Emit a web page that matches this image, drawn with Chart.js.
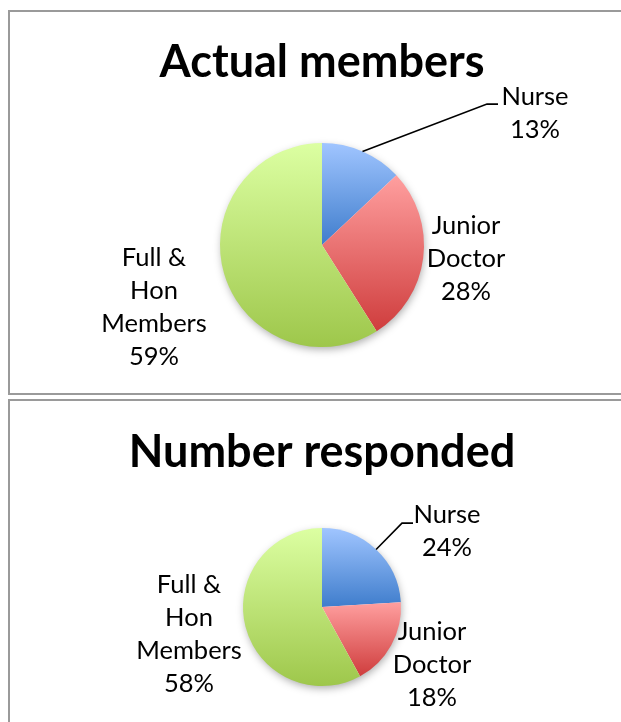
<!DOCTYPE html>
<html>
<head>
<meta charset="utf-8">
<script src="https://cdn.jsdelivr.net/npm/chart.js@4.4.1/dist/chart.umd.min.js"></script>
<style>
  body { margin: 0; width: 621px; height: 722px; overflow: hidden; position: relative; background: #fff; }
  .panel { position: absolute; left: 8px; width: 700px; border: 2px solid #9a9a9a; box-sizing: border-box; }
  canvas { position: absolute; left: 0; }
</style>
</head>
<body>
<div class="panel" style="top:10px; height:385px;"></div>
<div class="panel" style="top:399px; height:400px;"></div>
<canvas id="chartMembers" width="644" height="395" style="top:0"></canvas>
<canvas id="chartResponded" width="644" height="322" style="top:400px"></canvas>
<script>
// categories (multi-line, as wrapped in the original)
var categories = [['Nurse'], ['Junior', 'Doctor'], ['Full &', 'Hon', 'Members']];
// percentages
var actualMembers = [13, 28, 59];
var numberResponded = [24, 18, 58];

var sliceTop = ['#a0c5ff', '#ff9f9f', '#dcffa2'];
var sliceBottom = ['#3f7dcc', '#cf3d3d', '#9ec74b'];

// Office style gradient, from top to bottom of each slice's own bounding box
function sliceFill(ctx) {
    var chart = ctx.chart, area = chart.chartArea, i = ctx.dataIndex;
    if (!area) return sliceBottom[i];
    var vals = ctx.dataset.data;
    var total = vals.reduce(function (a, b) { return a + b; }, 0);
    var before = 0;
    for (var k = 0; k < i; k++) before += vals[k];
    var a0 = -Math.PI / 2 + 2 * Math.PI * before / total;
    var a1 = a0 + 2 * Math.PI * vals[i] / total;
    var ys = [0, Math.sin(a0), Math.sin(a1)];
    if (a0 <= Math.PI / 2 && a1 >= Math.PI / 2) ys.push(1);
    if (a0 <= -Math.PI / 2 + 1e-9 || a1 >= 3 * Math.PI / 2 - 1e-9) ys.push(-1);
    var r = ctx.dataset.radius;
    var cy = (area.top + area.bottom) / 2;
    var y0 = cy + r * Math.min.apply(null, ys), y1 = cy + r * Math.max.apply(null, ys);
    var g = chart.ctx.createLinearGradient(0, y0, 0, y1);
    g.addColorStop(0, sliceTop[i]);
    g.addColorStop(1, sliceBottom[i]);
    return g;
}

var pieDeco = {
    id: 'pieDeco',
    beforeDatasetsDraw: function (chart) {
        var arc = chart.getDatasetMeta(0).data[0];
        var c = chart.ctx;
        c.save();
        c.shadowColor = 'rgba(0,0,0,0.35)';
        c.shadowBlur = 8;
        c.shadowOffsetX = 1;
        c.shadowOffsetY = 3;
        c.beginPath();
        c.arc(arc.x, arc.y, arc.outerRadius - 1, 0, Math.PI * 2);
        c.fillStyle = '#fff';
        c.fill();
        c.restore();
    },
    afterDatasetsDraw: function (chart, args, opts) {
        var meta = chart.getDatasetMeta(0);
        var vals = chart.data.datasets[0].data;
        var total = vals.reduce(function (a, b) { return a + b; }, 0);
        var c = chart.ctx;
        c.save();
        c.font = opts.fontSize + 'px Lato';
        c.fillStyle = '#000';
        c.textAlign = 'center';
        c.textBaseline = 'middle';
        meta.data.forEach(function (arc, i) {
            var p = opts.place[i];
            var lines = [].concat(chart.data.labels[i], Math.round(vals[i] / total * 100) + '%');
            var y = arc.y + p.dy - (lines.length - 1) / 2 * opts.lineHeight;
            lines.forEach(function (t, j) {
                c.fillText(t, arc.x + p.dx, y + j * opts.lineHeight);
            });
            if (p.elbow) {
                var mid = (arc.startAngle + arc.endAngle) / 2;
                c.beginPath();
                c.moveTo(arc.x + Math.cos(mid) * arc.outerRadius, arc.y + Math.sin(mid) * arc.outerRadius);
                c.lineTo(arc.x + p.elbow[0], arc.y + p.elbow[1]);
                c.lineTo(arc.x + p.elbow[0] + 11, arc.y + p.elbow[1]);
                c.strokeStyle = '#000';
                c.lineWidth = 1.6;
                c.stroke();
            }
        });
        c.restore();
    }
};

function makePie(id, title, values, radius, titlePad, place) {
    return new Chart(document.getElementById(id), {
        type: 'pie',
        data: {
            labels: categories,
            datasets: [{
                data: values,
                radius: radius,
                backgroundColor: sliceFill,
                borderWidth: 0
            }]
        },
        options: {
            responsive: false,
            animation: false,
            layout: { padding: 0 },
            plugins: {
                legend: { display: false },
                tooltip: { enabled: false },
                title: {
                    display: true,
                    text: title,
                    color: '#000',
                    font: { family: 'Lato', weight: 'bold', size: 45, lineHeight: 1.2 },
                    padding: titlePad
                },
                pieDeco: { fontSize: 25.5, lineHeight: 33, place: place }
            }
        },
        plugins: [pieDeco]
    });
}

makePie('chartMembers', 'Actual members', actualMembers, 102, { top: 35, bottom: 6.2 }, [
    { dx: 213, dy: -132, elbow: [165, -141] },
    { dx: 144, dy: 14 },
    { dx: -168, dy: 62 }
]);

makePie('chartResponded', 'Number responded', numberResponded, 79, { top: 25, bottom: 13.2 }, [
    { dx: 125, dy: -76, elbow: [80, -84] },
    { dx: 110, dy: 58 },
    { dx: -133, dy: 27 }
]);
</script>
</body>
</html>
